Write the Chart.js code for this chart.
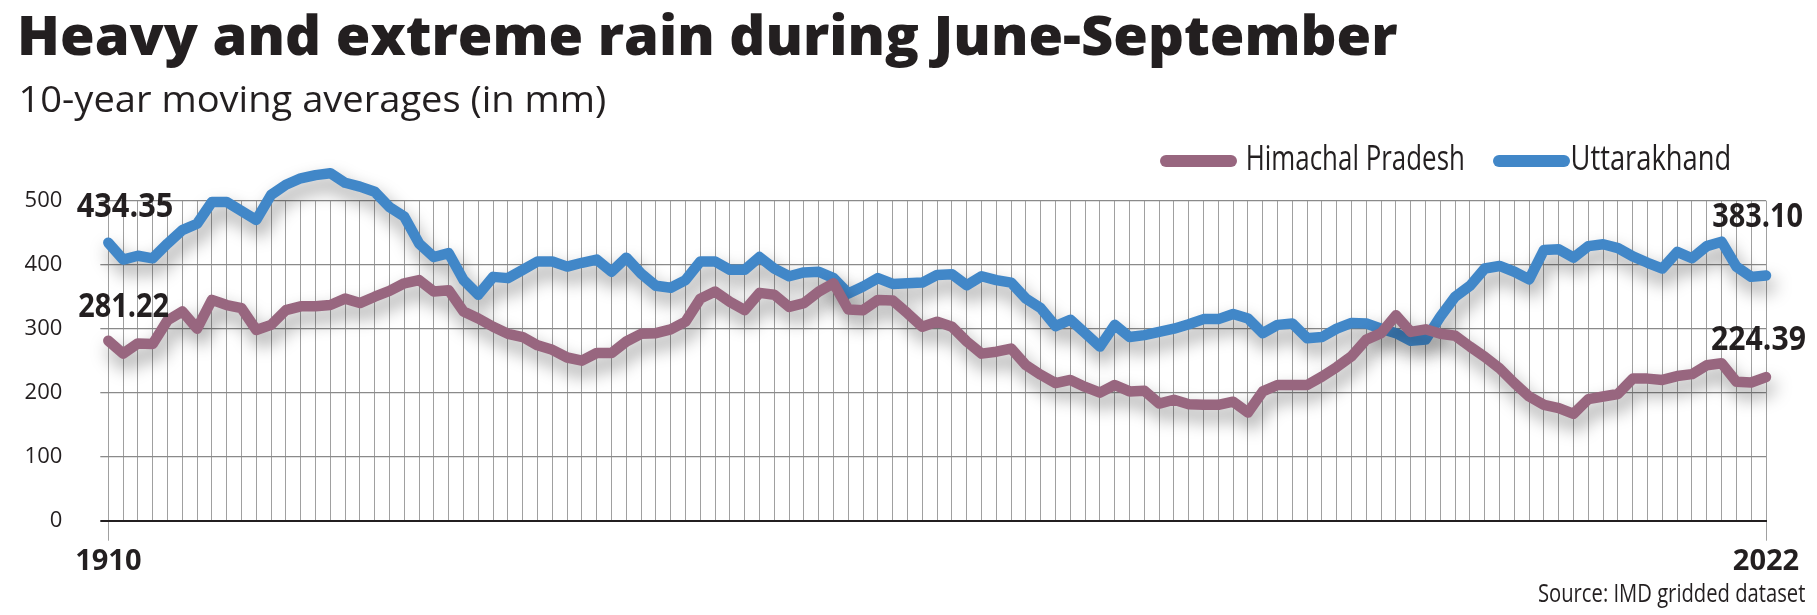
<!DOCTYPE html>
<html><head><meta charset="utf-8">
<script src="https://cdn.jsdelivr.net/npm/chart.js@4.4.1/dist/chart.umd.min.js"></script>
<style>html,body{margin:0;padding:0;background:#fff;overflow:hidden}canvas{display:block}</style>
</head><body>
<canvas id="c" width="1817" height="615"></canvas>
<script>
// ---- data ----
const firstYear = 1910, lastYear = 2022;
const years = [];
for (let y = firstYear; y <= lastYear; y++) years.push(String(y));

const himachal = [281.22,261,277,276,313,327,300,345,337,332,298,306,329,335,335,337,347,340,350,359,
371,376,358,360,327,316,303,292,287,274,267,255,250,262,262,280,292,293,299,311,
347,358,342,329,356,353,334,340,358,371,330,329,345,344,324,303,311,303,280,261,
264,269,243,228,215,220,209,200,212,202,203,183,189,182,181,181,186,169,202,212,
212,212,225,240,257,283,293,321,295,299,292,289,272,256,238,215,194,181,176,167,
190,194,198,222,222,220,226,229,243,246,217,216,224.39];

const uttarakhand = [434.35,408,414,410,433,454,464,498,498,484,470,509,525,535,540,543,528,522,514,490,
475,433,412,418,376,353,381,379,392,405,405,397,403,408,389,411,386,367,364,376,
405,405,392,392,412,394,382,388,389,379,355,366,379,370,371,372,384,385,368,382,
376,372,347,332,304,314,293,272,306,287,290,295,300,307,315,315,323,316,293,306,
308,285,287,300,309,308,300,293,281,283,319,350,367,394,398,389,377,423,424,411,
429,432,426,413,403,394,420,410,429,436,397,381,383.10];

const seriesNames = ['Himachal Pradesh', 'Uttarakhand'];
const yTicks = [0, 100, 200, 300, 400, 500];
const xTickLabels = ['1910', '2022'];
const startLabels = ['434.35', '281.22'];   // Uttarakhand, Himachal at 1910
const endLabels = ['383.10', '224.39'];     // Uttarakhand, Himachal at 2022
const titleText = 'Heavy and extreme rain during June-September';
const subtitleText = '10-year moving averages (in mm)';
const sourceText = 'Source: IMD gridded dataset';

// ---- styles ----
const PINK = '#98667f';
const BLUE = '#4187c8';
const INK = '#231f20';
const FONT = '"Open Sans", Roboto, "DejaVu Sans", sans-serif';

function drawFit(ctx, text, x, baseline, width, cap, weight, refChar, align) {
  ctx.save();
  ctx.font = weight + ' 100px ' + FONT;
  ctx.textAlign = 'left';
  ctx.textBaseline = 'alphabetic';
  const m = ctx.measureText(text);
  const ink = m.actualBoundingBoxLeft + m.actualBoundingBoxRight;
  const hm = ctx.measureText(refChar || 'H');
  const sx = width / ink, sy = cap / hm.actualBoundingBoxAscent;
  const left = align === 'right' ? x - width : x;
  ctx.translate(left, baseline);
  ctx.scale(sx, sy);
  ctx.fillStyle = INK;
  ctx.fillText(text, m.actualBoundingBoxLeft, 0);
  ctx.restore();
}

const bgPlugin = {
  id: 'bg',
  beforeDraw(chart) {
    const c = chart.ctx;
    c.save(); c.fillStyle = '#fff'; c.fillRect(0, 0, chart.width, chart.height); c.restore();
  }
};

const shadowPlugin = {
  id: 'shadow',
  beforeDatasetsDraw(chart) {
    const c = chart.ctx;
    c.save();
    c.shadowColor = 'rgba(0,0,0,0.4)';
    c.shadowBlur = 18;
    c.shadowOffsetX = 4;
    c.shadowOffsetY = 10;
  },
  afterDatasetsDraw(chart) { chart.ctx.restore(); }
};

const textPlugin = {
  id: 'texts',
  afterDraw(chart) {
    const c = chart.ctx;
    drawFit(c, titleText, 21, 55, 1376, 40, 800);
    drawFit(c, subtitleText, 22, 112, 583, 27, 400, '1');
    // legend
    c.save();
    c.lineCap = 'round';
    c.lineWidth = 12;
    c.strokeStyle = PINK;
    c.beginPath(); c.moveTo(1166, 161); c.lineTo(1231, 161); c.stroke();
    c.strokeStyle = BLUE;
    c.beginPath(); c.moveTo(1499, 161); c.lineTo(1564, 161); c.stroke();
    c.restore();
    drawFit(c, seriesNames[0], 1248, 170, 215, 25, 400);
    drawFit(c, seriesNames[1], 1573, 170, 156, 25, 400);
    // value labels
    drawFit(c, startLabels[0], 77, 217, 95, 25, 700, '0');
    drawFit(c, startLabels[1], 79, 317, 89, 25, 700, '0');
    drawFit(c, endLabels[0], 1802, 227, 89, 25, 700, '0', 'right');
    drawFit(c, endLabels[1], 1805, 350, 93, 25, 700, '0', 'right');
    // source
    drawFit(c, sourceText, 1539, 602, 266, 19, 400);
  }
};

const lastIdx = years.length - 1;

new Chart(document.getElementById('c'), {
  type: 'line',
  data: {
    labels: years,
    datasets: [
      { label: seriesNames[0], data: himachal, borderColor: PINK, backgroundColor: PINK },
      { label: seriesNames[1], data: uttarakhand, borderColor: BLUE, backgroundColor: BLUE }
    ]
  },
  options: {
    responsive: false,
    devicePixelRatio: 1,
    animation: false,
    clip: false,
    layout: { padding: { top: 200.7, right: 51, bottom: 0, left: 0 } },
    elements: {
      point: { radius: 0, hoverRadius: 0 },
      line: { borderWidth: 10.5, tension: 0, borderJoinStyle: 'round', borderCapStyle: 'round' }
    },
    plugins: {
      legend: { display: false },
      title: { display: false },
      tooltip: { enabled: false }
    },
    scales: {
      x: {
        type: 'category',
        offset: false,
        afterFit(scale) { scale.height = 94.3; },
        border: { display: true, color: INK, width: 2 },
        grid: {
          color: '#a0a0a0',
          lineWidth: 1,
          drawTicks: true,
          tickLength: 20,
          tickColor: (ctx) => (ctx.index === 0 || ctx.index === lastIdx) ? '#a0a0a0' : 'rgba(0,0,0,0)'
        },
        ticks: {
          autoSkip: false,
          maxRotation: 0,
          padding: 4,
          color: INK,
          font: { family: FONT, size: 29, weight: 700 },
          callback: (val, idx) => idx === 0 ? xTickLabels[0] : (idx === lastIdx ? xTickLabels[1] : '')
        }
      },
      y: {
        min: yTicks[0],
        max: yTicks[yTicks.length - 1],
        afterFit(scale) { scale.width = 108.3; },
        afterBuildTicks(scale) { scale.ticks = yTicks.map(v => ({ value: v })); },
        border: { display: false },
        grid: {
          color: (ctx) => ctx.tick && ctx.tick.value === 0 ? INK : '#8a8a8a',
          lineWidth: (ctx) => ctx.tick && ctx.tick.value === 0 ? 2 : 1.3,
          tickLength: 8
        },
        ticks: {
          padding: 38,
          color: INK,
          font: { family: FONT, size: 22, weight: 400 }
        }
      }
    }
  },
  plugins: [bgPlugin, shadowPlugin, textPlugin]
});
</script>
</body></html>
